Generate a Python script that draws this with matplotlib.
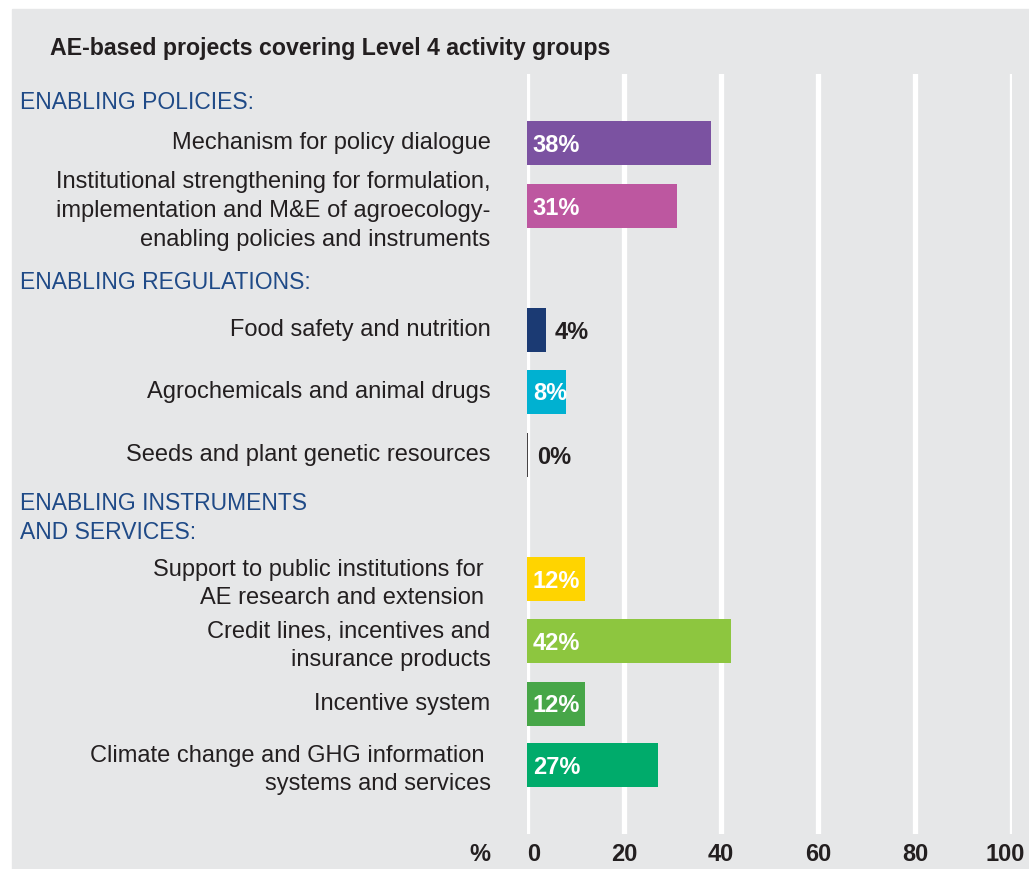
import matplotlib.pyplot as plt
from matplotlib.patches import Rectangle

plt.rcParams['font.family'] = ['Liberation Sans', 'DejaVu Sans']

# data
title = "AE-based projects covering Level 4 activity groups"
headers = ["ENABLING POLICIES:", "ENABLING REGULATIONS:",
           "ENABLING INSTRUMENTS\nAND SERVICES:"]
labels = ["Mechanism for policy dialogue",
          "Institutional strengthening for formulation,\nimplementation and M&E of agroecology-\nenabling policies and instruments",
          "Food safety and nutrition",
          "Agrochemicals and animal drugs",
          "Seeds and plant genetic resources",
          "Support to public institutions for \nAE research and extension ",
          "Credit lines, incentives and\ninsurance products",
          "Incentive system",
          "Climate change and GHG information \nsystems and services"]
values = [38, 31, 4, 8, 0, 12, 42, 12, 27]
xticks = [0, 20, 40, 60, 80, 100]

# layout (pixel rows) and styles
row_y = [144, 207, 331, 393, 456, 580, 642, 705, 766]
header_y = [102, 282, 518]
tick_ha = ["left", "center", "center", "center", "center", "right"]
tick_dx = [0, 0, 0, 0, 0, 2.7]
colors = ["#7b52a1", "#bd57a0", "#1b3a73", "#00b1d1", "#231f20",
          "#ffd400", "#8dc63f", "#47a648", "#00ab6b"]
text_dark = "#231f20"
blue = "#1f4a87"
bg = "#e6e7e8"

W, H = 1029, 870
fig = plt.figure(figsize=(W / 100, H / 100), dpi=100, facecolor="white")
fig.patches.append(Rectangle((12 / W, 0), 1 - 12 / W, (H - 10) / H,
                             transform=fig.transFigure, color=bg, zorder=-5))

x0, x1 = 527, 1012
y_top, y_bot = 75, 835
ax = fig.add_axes([x0 / W, 1 - y_bot / H, (x1 - x0) / W, (y_bot - y_top) / H])
ax.set_facecolor("none")
ax.set_xlim(0, 100)
ax.set_ylim(y_bot, y_top)
for s in ax.spines.values():
    s.set_visible(False)
ax.set_yticks([])
ax.set_xticks([])

for t in xticks:
    ax.axvline(t, color="white", lw=3.8, zorder=1)

for i, v in enumerate(values):
    y = row_y[i]
    if v > 0:
        ax.barh(y, v, height=44, color=colors[i], zorder=2)
    else:
        ax.plot([0, 0], [y - 22, y + 22], color=colors[i], lw=1.2, zorder=2,
                solid_capstyle="butt")
    if v >= 8:
        ax.text(1.2, y + 1, f"{v}%", color="white", fontsize=17, fontweight="bold",
                va="center", ha="left", zorder=3)
    else:
        ax.text(v + (1.6 if v > 0 else 2.0), y + 1, f"{v}%", color=text_dark,
                fontsize=17, fontweight="bold", va="center", ha="left", zorder=3)
    dy = 4 if "\n" in labels[i] else -1
    ax.text(-7.5, y + dy, labels[i], color=text_dark, fontsize=17, ha="right",
            va="center", linespacing=1.4, clip_on=False)

for h, y in zip(headers, header_y):
    ax.text(-104.5, y, h, color=blue, fontsize=16.5, ha="left", va="center",
            linespacing=1.35, clip_on=False)

for t, ha, dx in zip(xticks, tick_ha, tick_dx):
    ax.text(t + dx, 855, str(t), color=text_dark, fontsize=17, fontweight="bold",
            ha=ha, va="center", clip_on=False)
ax.text(-9.8, 855, "%", color=text_dark, fontsize=17, fontweight="bold",
        ha="center", va="center", clip_on=False)

fig.text(50 / W, 1 - 48 / H, title, color=text_dark, fontsize=16.7,
         fontweight="bold", ha="left", va="center")

fig.savefig("out.png", dpi=100, facecolor="white")
